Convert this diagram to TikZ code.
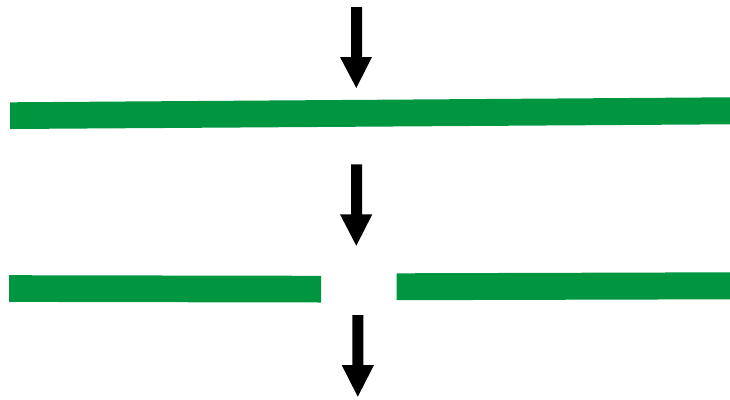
\documentclass[tikz,border=0pt]{standalone}
\definecolor{bargreen}{RGB}{0,150,64}
\begin{document}
\begin{tikzpicture}[x=1pt,y=-1pt,
  bar/.style={fill=bargreen,draw=none},
  downarrow/.style={fill=black,draw=none}]
\useasboundingbox (0,0) rectangle (730,399);
% arrow 1
\fill[downarrow] (351,7) -- (362,7) -- (362,57) -- (372,57) -- (356.3,88) -- (340,57) -- (351,57) -- cycle;
% top bar
\fill[bar] (10,102.3) -- (730,97.3) -- (730,124.3) -- (10,129) -- cycle;
% arrow 2
\fill[downarrow] (351,164.3) -- (362,164.3) -- (362,214.3) -- (372.3,214.3) -- (356.3,245.7) -- (340,214.3) -- (351,214.3) -- cycle;
% broken bars
\fill[bar] (9,275.2) -- (321,275.8) -- (321,302.5) -- (9,301.9) -- cycle;
\fill[bar] (396.7,273.3) -- (730,272.3) -- (730,299.3) -- (396.7,300.2) -- cycle;
% arrow 3
\fill[downarrow] (352.3,315) -- (363.3,315) -- (363.3,365) -- (374,365) -- (357.8,396.7) -- (341.7,365) -- (352.3,365) -- cycle;
\end{tikzpicture}
\end{document}
